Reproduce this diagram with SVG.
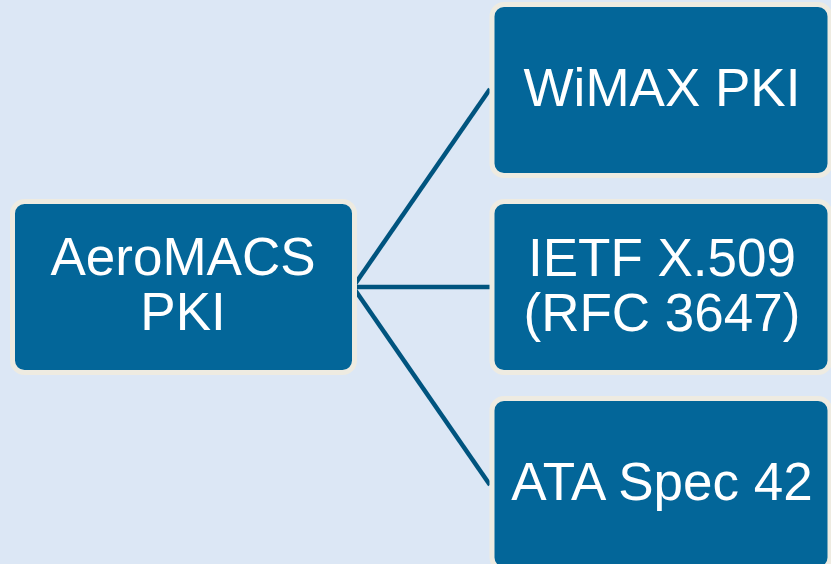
<svg xmlns="http://www.w3.org/2000/svg" width="831" height="564" viewBox="0 0 831 564">
<style>
.box{fill:#036699;stroke:#EEEBE1;stroke-width:5}
.lbl{fill:#FFFFFF;font-family:"Liberation Sans",Arial,sans-serif;font-size:53px;text-anchor:middle}
.conn{stroke:#00547F;stroke-width:4.5;fill:none}
</style>
<rect x="0" y="0" width="831" height="564" fill="#DCE7F5"/>
<g id="connectors">
<line class="conn" x1="353" y1="287" x2="490" y2="89"/>
<line class="conn" x1="353" y1="287" x2="490" y2="287"/>
<line class="conn" x1="353" y1="287" x2="490" y2="485"/>
</g>
<g id="aeromacs">
<rect class="box" x="12.5" y="201.5" width="342" height="171" rx="12"/>
<text class="lbl" x="183" y="275">AeroMACS</text>
<text class="lbl" x="183" y="330">PKI</text>
</g>
<g id="wimax">
<rect class="box" x="492" y="4.5" width="338" height="171" rx="12"/>
<text class="lbl" x="662" y="106">WiMAX PKI</text>
</g>
<g id="ietf">
<rect class="box" x="492" y="201.5" width="338" height="171" rx="12"/>
<text class="lbl" x="662" y="276">IETF X.509</text>
<text class="lbl" x="662" y="331">(RFC 3647)</text>
</g>
<g id="ata">
<rect class="box" x="492" y="398.5" width="338" height="171" rx="12"/>
<text class="lbl" x="662" y="500">ATA Spec 42</text>
</g>
</svg>
